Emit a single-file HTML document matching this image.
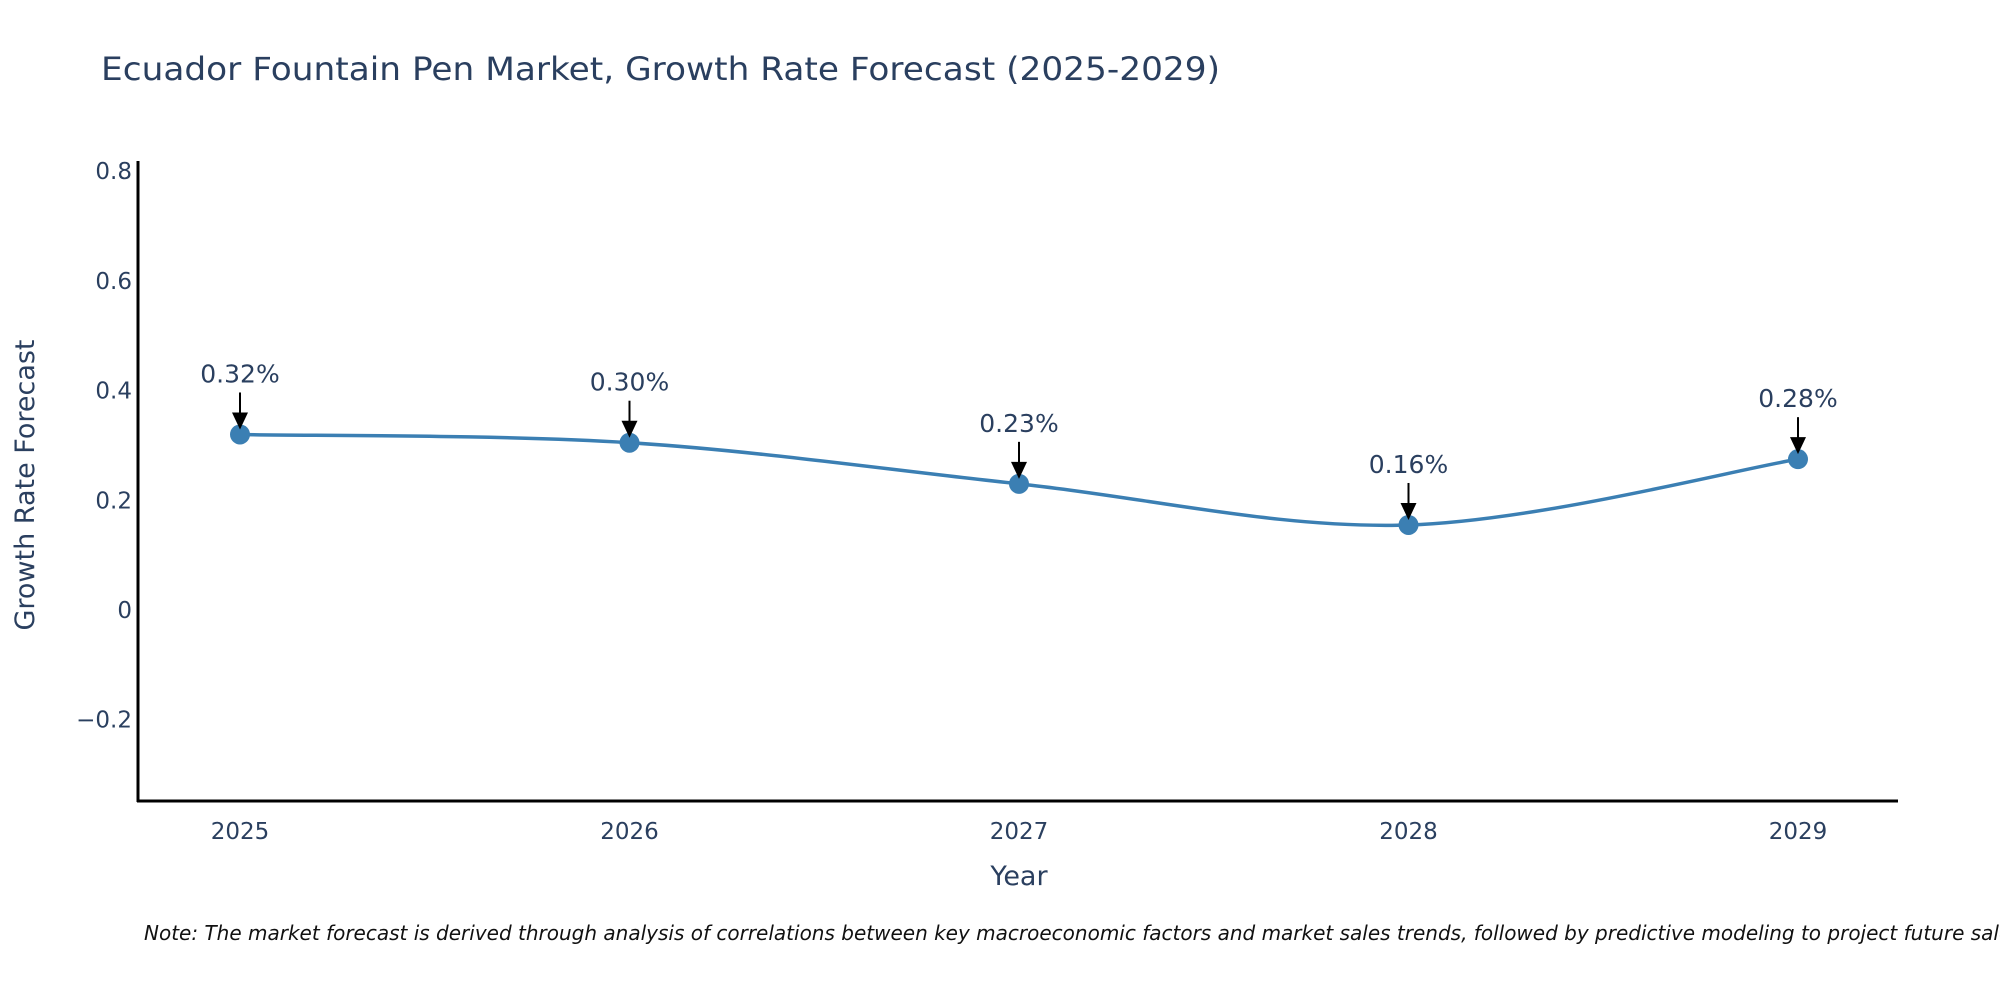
<!DOCTYPE html>
<html><head><meta charset="utf-8"><style>
body{margin:0;background:#fff}
svg{display:block;font-family:"DejaVu Sans","Liberation Sans",sans-serif}
</style></head><body>
<svg id="c" width="2000" height="1000">
<text x="101" y="80" font-size="32" textLength="1119" lengthAdjust="spacingAndGlyphs" fill="#2a3f5f">Ecuador Fountain Pen Market, Growth Rate Forecast (2025-2029)</text>
<text transform="translate(34,485) rotate(-90)" text-anchor="middle" font-size="27" fill="#2a3f5f">Growth Rate Forecast</text>
<text x="1019" y="885" text-anchor="middle" font-size="27" fill="#2a3f5f">Year</text>
<text x="144" y="940" font-size="20" font-style="italic" fill="#111">Note: The market forecast is derived through analysis of correlations between key macroeconomic factors and market sales trends, followed by predictive modeling to project future sales.</text>
<g id="plot"></g>
</svg>
<script>
const years=[2025,2026,2027,2028,2029];
const values=[0.32,0.305,0.23,0.155,0.275];
const labels=["0.32%","0.30%","0.23%","0.16%","0.28%"];
const yTicks=[-0.2,0,0.2,0.4,0.6,0.8];
const yTickLabels=["\u22120.2","0","0.2","0.4","0.6","0.8"];

const NS="http://www.w3.org/2000/svg";
const g=document.getElementById('plot');
const L=138,R=1898,T=161,B=801;
const xs=y=>240+(y-2025)*389.5;
const ys=v=>610-v*548.5;
function mk(t,a){const e=document.createElementNS(NS,t);for(const k in a)e.setAttribute(k,a[k]);g.appendChild(e);return e;}
yTicks.forEach((v,i)=>{const t=mk('text',{x:L-6,y:ys(v)+8,'text-anchor':'end','font-size':23,fill:'#2a3f5f'});t.textContent=yTickLabels[i];

});
years.forEach(y=>{const t=mk('text',{x:xs(y),y:B+38,'text-anchor':'middle','font-size':23,fill:'#2a3f5f'});t.textContent=y;

});
const ya=mk('line',{x1:L,y1:T,x2:L,y2:B+1,stroke:'#000','stroke-width':3});


const xa=mk('line',{x1:L-1,y1:B,x2:R,y2:B,stroke:'#000','stroke-width':3});


const P=years.map((y,i)=>[xs(y),ys(values[i])]);
let d=`M${P[0][0]},${P[0][1]}`;
for(let i=0;i<P.length-1;i++){const p0=P[Math.max(i-1,0)],p1=P[i],p2=P[i+1],p3=P[Math.min(i+2,P.length-1)];const s=1/3;
d+=` C${p1[0]+(p2[0]-p0[0])*s/2},${p1[1]+(p2[1]-p0[1])*s/2} ${p2[0]-(p3[0]-p1[0])*s/2},${p2[1]-(p3[1]-p1[1])*s/2} ${p2[0]},${p2[1]}`;}
const ln=mk('path',{d:d,fill:'none',stroke:'#3b7fb3','stroke-width':3.5});


P.forEach((p,i)=>{
const c=mk('circle',{cx:p[0],cy:p[1],r:10,fill:'#3b7fb3'});


const a=mk('line',{x1:p[0],y1:p[1]-42,x2:p[0],y2:p[1]-18,stroke:'#000','stroke-width':2});


const h=mk('polygon',{points:`${p[0]-8},${p[1]-22} ${p[0]+8},${p[1]-22} ${p[0]},${p[1]-5}`,fill:'#000'});


const t=mk('text',{x:p[0],y:p[1]-52,'text-anchor':'middle','font-size':25,fill:'#2a3f5f'});t.textContent=labels[i];


});
</script>
</body></html>
